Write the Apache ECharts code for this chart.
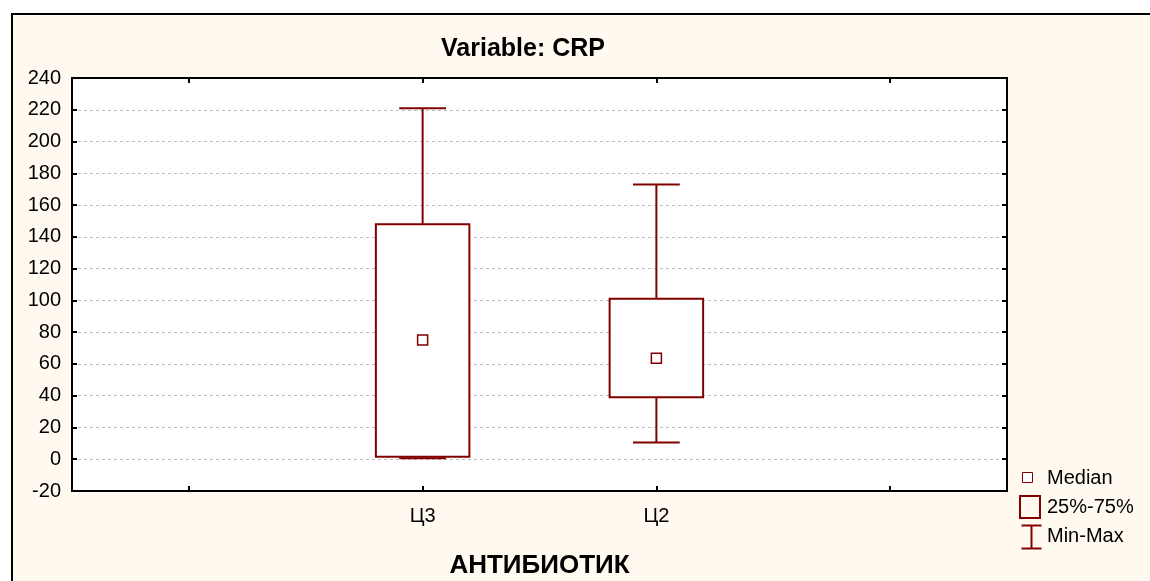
<!DOCTYPE html>
<html>
<head>
<meta charset="utf-8">
<script src="https://cdn.jsdelivr.net/npm/echarts@6/dist/echarts.min.js"></script>
<style>
  html, body { margin: 0; padding: 0; background: #ffffff; overflow: hidden; }
  #frame { position: absolute; left: 11px; top: 13px; width: 1200px; height: 700px;
           border: 2px solid #000; background: #FFF9EF; }
  #chart { position: absolute; left: 0; top: 0; width: 1150px; height: 581px; }
</style>
</head>
<body>
<div id="frame"></div>
<div id="chart"></div>
<script>
// ---- data ----
const categories = ['', 'Ц3', 'Ц2', ''];
const groups = ['Ц3', 'Ц2'];
const minVals = [0.6, 10.6];
const q1Vals = [1.6, 39];
const medianVals = [75, 63.5];
const q3Vals = [148, 101];
const maxVals = [221, 173];
const yMin = -20, yMax = 240, yStep = 20;
const legendLabels = ['Median', '25%-75%', 'Min-Max'];

const RED = '#820000';
const FONT = 'Liberation Sans, Arial, sans-serif';

const boxData = groups.map((g, i) => [g, minVals[i], q1Vals[i], medianVals[i], q3Vals[i], maxVals[i]]);

const chart = echarts.init(document.getElementById('chart'));

function renderBox(params, api) {
  const cat = api.value(0);
  const band = api.size([1, 0])[0];
  const boxW = band * 0.4;
  const capW = band * 0.2;
  const pMin = api.coord([cat, api.value(1)]);
  const pQ1 = api.coord([cat, api.value(2)]);
  const pMed = api.coord([cat, api.value(3)]);
  const pQ3 = api.coord([cat, api.value(4)]);
  const pMax = api.coord([cat, api.value(5)]);
  const x = pMin[0];
  const ls = { stroke: RED, lineWidth: 2 };
  return {
    type: 'group',
    children: [
      { type: 'line', shape: { x1: x, y1: pMax[1], x2: x, y2: pQ3[1] }, style: ls },
      { type: 'line', shape: { x1: x - capW / 2, y1: pMax[1], x2: x + capW / 2, y2: pMax[1] }, style: ls },
      { type: 'line', shape: { x1: x, y1: pQ1[1], x2: x, y2: pMin[1] }, style: ls },
      { type: 'line', shape: { x1: x - capW / 2, y1: pMin[1], x2: x + capW / 2, y2: pMin[1] }, style: ls },
      { type: 'rect', shape: { x: x - boxW / 2, y: pQ3[1], width: boxW, height: pQ1[1] - pQ3[1] },
        style: { fill: '#ffffff', stroke: RED, lineWidth: 2 } },
      { type: 'rect', shape: { x: x - 5, y: pMed[1] - 5, width: 10, height: 10 },
        style: { fill: '#ffffff', stroke: RED, lineWidth: 1.5 } }
    ]
  };
}

const axisLabelStyle = { color: '#000', fontFamily: FONT, fontSize: 20 };

chart.setOption({
  backgroundColor: 'transparent',
  animation: false,
  title: {
    text: 'Variable: CRP',
    left: 518, top: 32, textAlign: 'center',
    textStyle: { fontFamily: FONT, fontSize: 25, fontWeight: 'bold', color: '#000' }
  },
  grid: {
    left: 72, right: 143, top: 78, bottom: 90,
    outerBoundsMode: 'none', containLabel: false,
    show: true, backgroundColor: '#ffffff', borderColor: '#000', borderWidth: 2
  },
  xAxis: [
    {
      type: 'category', data: categories, position: 'bottom',
      axisLine: { show: true, onZero: false, lineStyle: { color: '#000', width: 2 } },
      axisTick: { show: true, inside: true, alignWithLabel: true, length: 5, lineStyle: { color: '#000', width: 2 } },
      axisLabel: Object.assign({ margin: 15, interval: 0 }, axisLabelStyle),
      splitLine: { show: false },
      name: 'АНТИБИОТИК', nameLocation: 'middle', nameGap: 62,
      nameTextStyle: { fontFamily: FONT, fontSize: 26, fontWeight: 'bold', color: '#000' }
    },
    {
      type: 'category', data: categories, position: 'top',
      axisLine: { show: true, onZero: false, lineStyle: { color: '#000', width: 2 } },
      axisTick: { show: true, inside: true, alignWithLabel: true, length: 5, lineStyle: { color: '#000', width: 2 } },
      axisLabel: { show: false }, splitLine: { show: false }
    }
  ],
  yAxis: [
    {
      type: 'value', min: yMin, max: yMax, interval: yStep, position: 'left',
      axisLine: { show: true, onZero: false, lineStyle: { color: '#000', width: 2 } },
      axisTick: { show: true, inside: true, length: 5, lineStyle: { color: '#000', width: 2 } },
      axisLabel: Object.assign({ margin: 11 }, axisLabelStyle),
      splitLine: { show: true, lineStyle: { color: '#bdbdbd', width: 1, type: [3, 3] } }
    },
    {
      type: 'value', min: yMin, max: yMax, interval: yStep, position: 'right',
      axisLine: { show: true, onZero: false, lineStyle: { color: '#000', width: 2 } },
      axisTick: { show: true, inside: true, length: 5, lineStyle: { color: '#000', width: 2 } },
      axisLabel: { show: false }, splitLine: { show: false }
    }
  ],
  series: [{
    type: 'custom',
    xAxisIndex: 0, yAxisIndex: 0,
    renderItem: renderBox,
    encode: { x: 0, y: [1, 2, 3, 4, 5] },
    data: boxData,
    z: 5
  }],
  graphic: [
    { type: 'rect', left: 1022, top: 472, shape: { width: 10, height: 10 },
      style: { fill: '#ffffff', stroke: RED, lineWidth: 1 } },
    { type: 'rect', left: 1019, top: 495, shape: { width: 20, height: 22 },
      style: { fill: 'transparent', stroke: RED, lineWidth: 2 } },
    { type: 'group', left: 1019, top: 523, children: [
      { type: 'line', shape: { x1: 0, y1: 1, x2: 20, y2: 1 }, style: { stroke: RED, lineWidth: 2 } },
      { type: 'line', shape: { x1: 10, y1: 1, x2: 10, y2: 24 }, style: { stroke: RED, lineWidth: 2 } },
      { type: 'line', shape: { x1: 0, y1: 24, x2: 20, y2: 24 }, style: { stroke: RED, lineWidth: 2 } }
    ]},
    { type: 'text', left: 1047, top: 468, style: { text: legendLabels[0], fill: '#000', font: '20px ' + FONT } },
    { type: 'text', left: 1047, top: 497, style: { text: legendLabels[1], fill: '#000', font: '20px ' + FONT } },
    { type: 'text', left: 1047, top: 526, style: { text: legendLabels[2], fill: '#000', font: '20px ' + FONT } }
  ]
});
</script>
</body>
</html>
